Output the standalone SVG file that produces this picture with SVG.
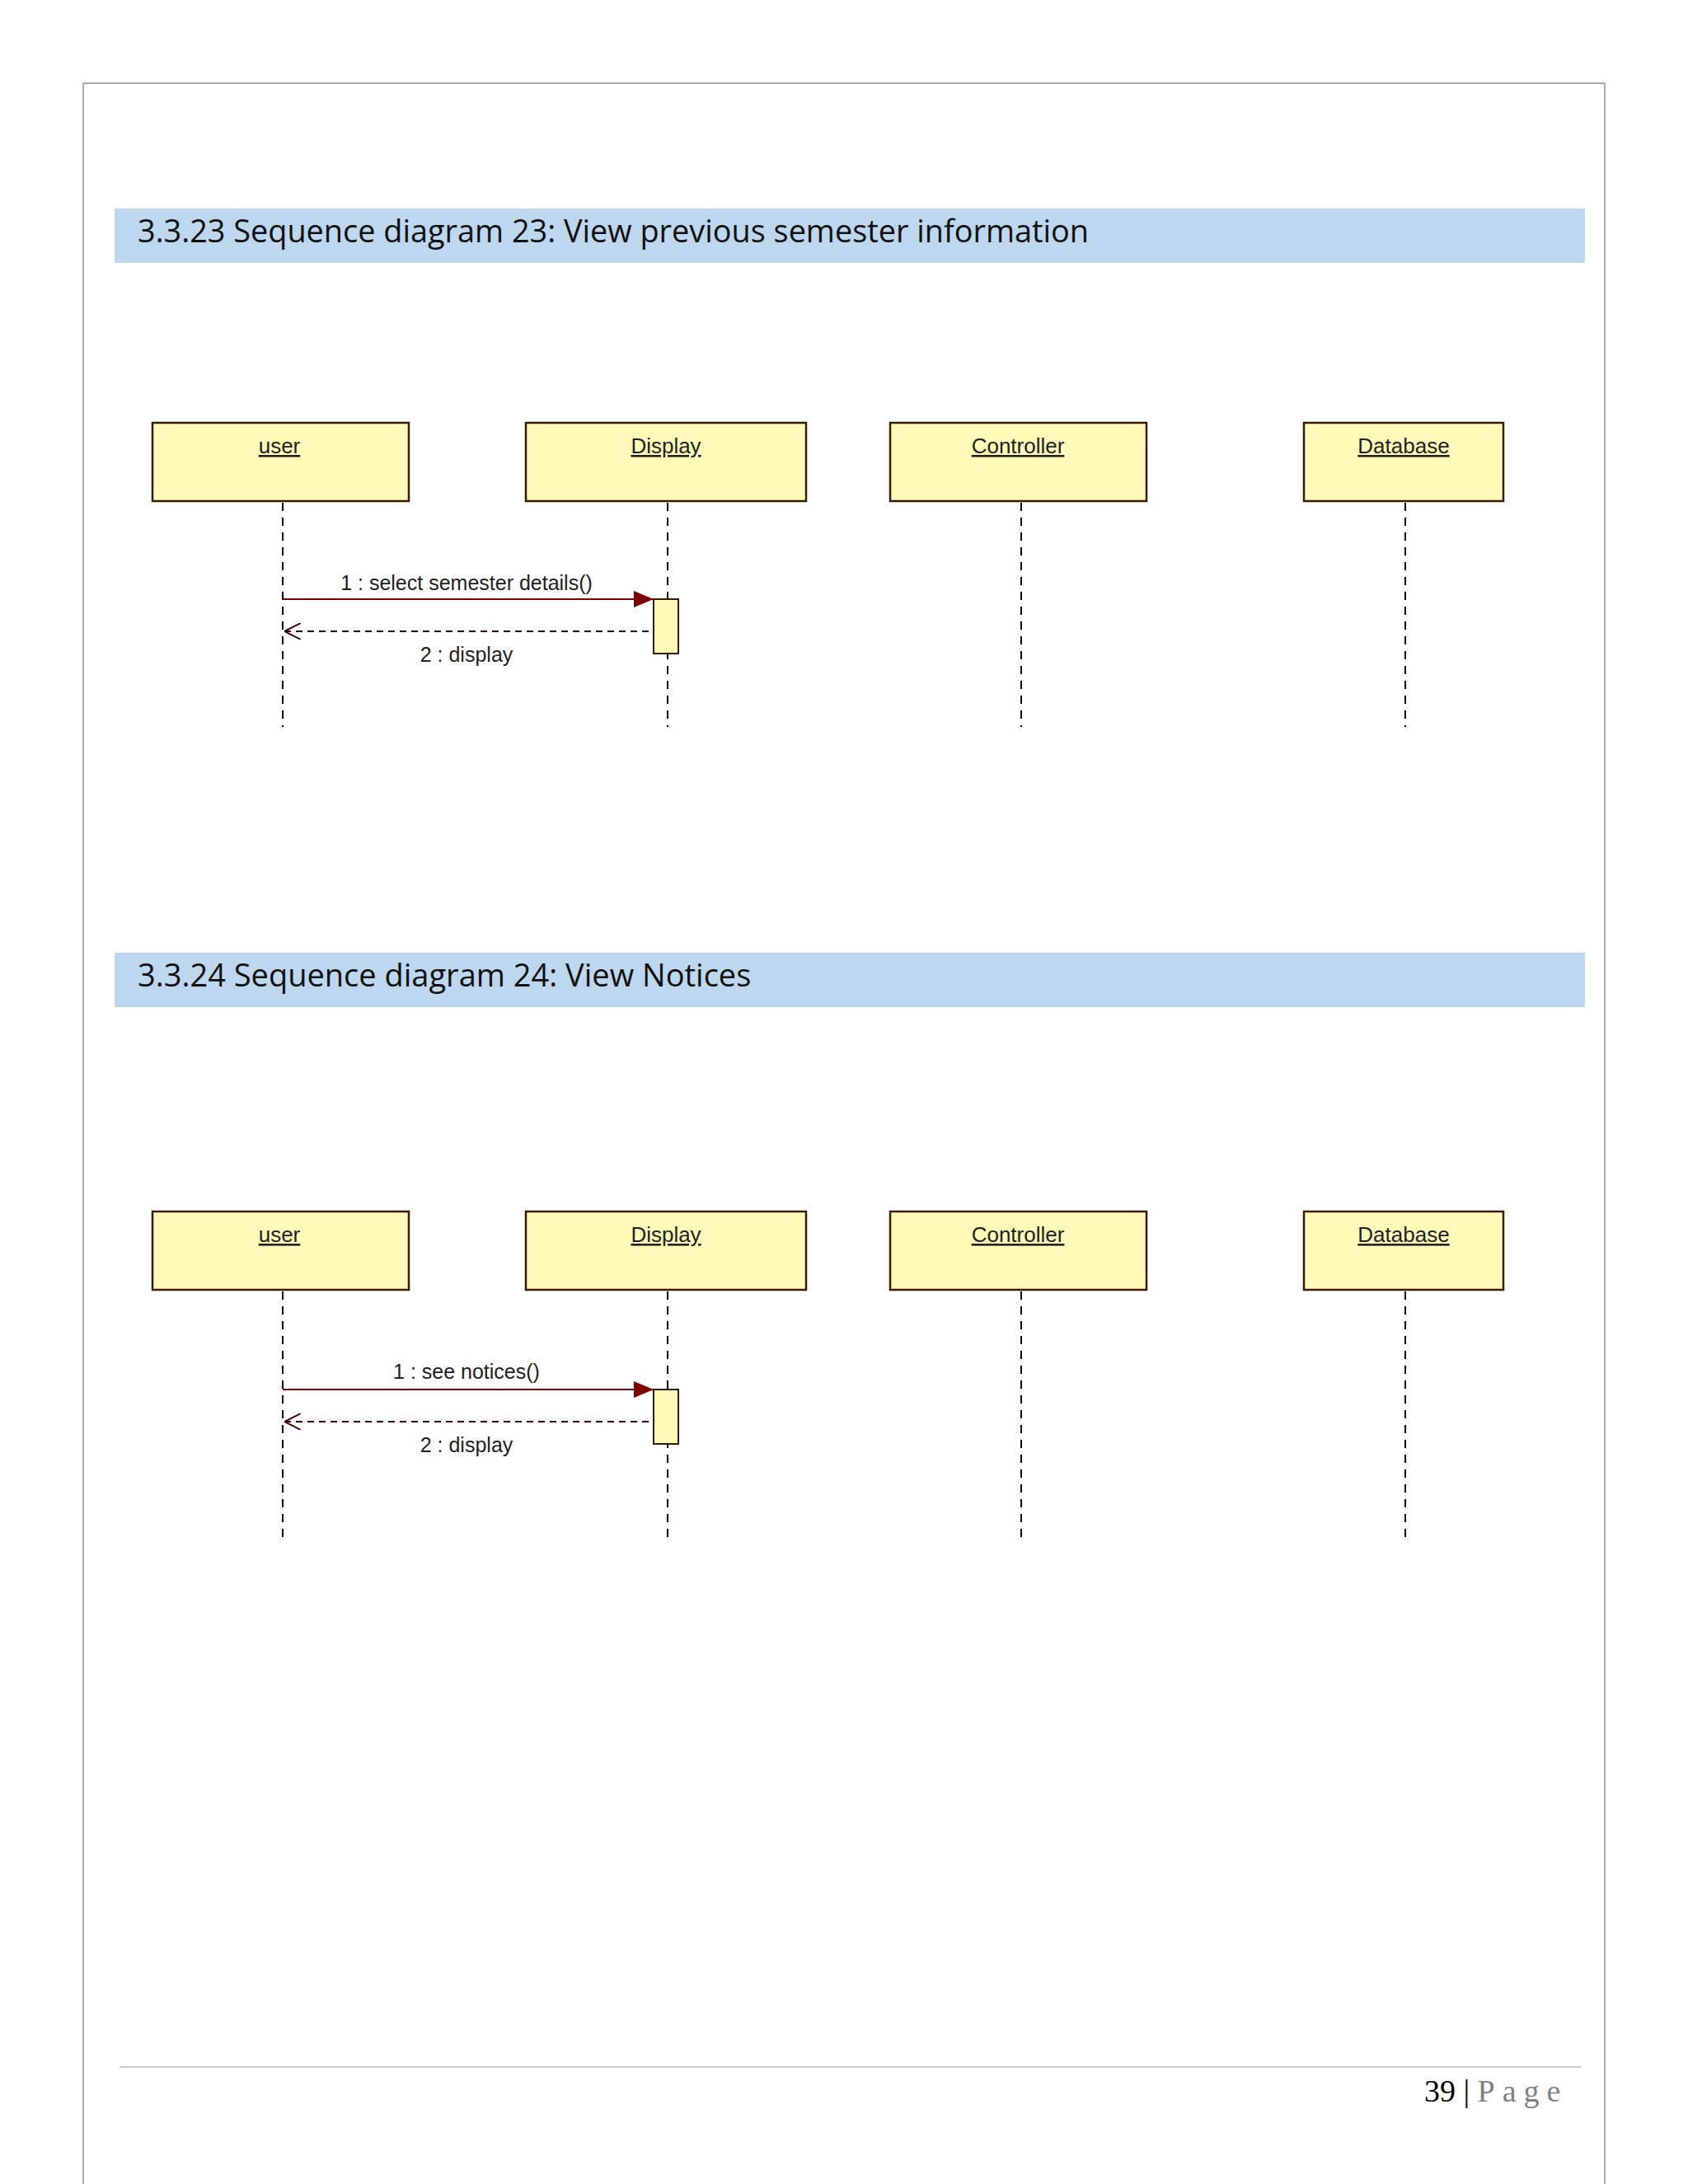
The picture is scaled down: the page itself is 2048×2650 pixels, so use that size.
<svg xmlns="http://www.w3.org/2000/svg" width="2048" height="2650" viewBox="0 0 2048 2650">
<style>
.hdr{fill:#bdd7ee}
.ht{font-family:"Open Sans","Liberation Sans",sans-serif;font-size:38px;fill:#111}
.box{fill:#fffab8;stroke:#3a1a00;stroke-width:2.5}
.bl{font-family:"Liberation Sans",sans-serif;font-size:26px;fill:#222;text-anchor:middle;text-decoration:underline}
.life{stroke:#000;stroke-width:2;stroke-dasharray:10,8}
.msg{stroke:#800000;stroke-width:2;fill:none}
.ret{stroke:#400000;stroke-width:2;stroke-dasharray:8,6;fill:none}
.ml{font-family:"Liberation Sans",sans-serif;font-size:25px;fill:#222;text-anchor:middle}
.act{fill:#fffab8;stroke:#3a1a00;stroke-width:2}
</style>
<defs>
<marker id="fa" markerWidth="24" markerHeight="20" refX="24" refY="10" orient="auto" markerUnits="userSpaceOnUse"><path d="M0,0 L24,10 L0,20 Z" fill="#800000"/></marker>
<marker id="oa" markerWidth="20" markerHeight="20" refX="0" refY="10" orient="auto" markerUnits="userSpaceOnUse"><path d="M20,0 L0,10 L20,20" fill="none" stroke="#400000" stroke-width="2"/></marker>
</defs>
<rect width="2048" height="2650" fill="#fff"/>
<path d="M101,2650 V101 H1947 V2650" fill="none" stroke="#aaa" stroke-width="2"/>
<g id="section23">
<rect class="hdr" x="139" y="253" width="1784" height="66"/>
<text class="ht" x="167" y="294" textLength="1154" lengthAdjust="spacingAndGlyphs">3.3.23 Sequence diagram 23: View previous semester information</text>
</g>
<g id="d23-user"><rect class="box" x="185" y="513" width="311" height="95"/><text class="bl" x="339" y="550">user</text><line class="life" x1="343" y1="610" x2="343" y2="882"/></g>
<g id="d23-display"><rect class="box" x="638" y="513" width="340" height="95"/><text class="bl" x="808" y="550">Display</text><line class="life" x1="810" y1="610" x2="810" y2="882"/></g>
<g id="d23-controller"><rect class="box" x="1080" y="513" width="311" height="95"/><text class="bl" x="1235" y="550">Controller</text><line class="life" x1="1239" y1="610" x2="1239" y2="882"/></g>
<g id="d23-database"><rect class="box" x="1582" y="513" width="242" height="95"/><text class="bl" x="1703" y="550">Database</text><line class="life" x1="1705" y1="610" x2="1705" y2="882"/></g>
<g id="d23-connectors">
<rect class="act" x="793" y="727" width="30" height="66"/>
<line class="msg" x1="343" y1="727" x2="793" y2="727" marker-end="url(#fa)"/>
<text class="ml" x="566" y="716">1 : select semester details()</text>
<line class="ret" x1="345" y1="766" x2="793" y2="766" marker-start="url(#oa)"/>
<text class="ml" x="566" y="803">2 : display</text>
</g>
<g id="section24">
<rect class="hdr" x="139" y="1156" width="1784" height="66"/>
<text class="ht" x="167" y="1197">3.3.24 Sequence diagram 24: View Notices</text>
</g>
<g id="d24-user"><rect class="box" x="185" y="1470" width="311" height="95"/><text class="bl" x="339" y="1507">user</text><line class="life" x1="343" y1="1567" x2="343" y2="1867"/></g>
<g id="d24-display"><rect class="box" x="638" y="1470" width="340" height="95"/><text class="bl" x="808" y="1507">Display</text><line class="life" x1="810" y1="1567" x2="810" y2="1867"/></g>
<g id="d24-controller"><rect class="box" x="1080" y="1470" width="311" height="95"/><text class="bl" x="1235" y="1507">Controller</text><line class="life" x1="1239" y1="1567" x2="1239" y2="1867"/></g>
<g id="d24-database"><rect class="box" x="1582" y="1470" width="242" height="95"/><text class="bl" x="1703" y="1507">Database</text><line class="life" x1="1705" y1="1567" x2="1705" y2="1867"/></g>
<g id="d24-connectors">
<rect class="act" x="793" y="1686" width="30" height="66"/>
<line class="msg" x1="343" y1="1686" x2="793" y2="1686" marker-end="url(#fa)"/>
<text class="ml" x="566" y="1673">1 : see notices()</text>
<line class="ret" x1="345" y1="1725" x2="793" y2="1725" marker-start="url(#oa)"/>
<text class="ml" x="566" y="1762">2 : display</text>
</g>
<g id="footer">
<line x1="145" y1="2508" x2="1918" y2="2508" stroke="#ccc" stroke-width="2"/>
<text x="1728" y="2550" font-family="Liberation Serif,serif" font-size="38" fill="#000">39 | <tspan fill="#808080" letter-spacing="9">Page</tspan></text>
</g>
</svg>
